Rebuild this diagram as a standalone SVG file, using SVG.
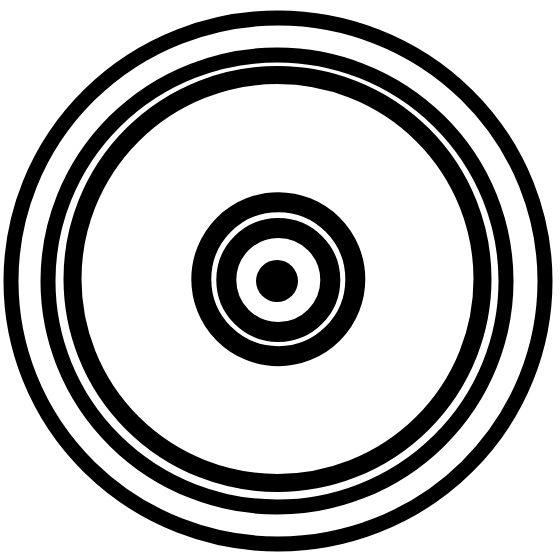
<svg xmlns="http://www.w3.org/2000/svg" width="560" height="560" viewBox="0 0 560 560">
<style>.r{fill:none;stroke:#000}</style>
<rect width="560" height="560" fill="#fff"/>
<ellipse class="r" cx="278" cy="281" rx="267" ry="263" stroke-width="15"/>
<ellipse class="r" cx="277" cy="281" rx="229" ry="226" stroke-width="15"/>
<ellipse class="r" cx="277.5" cy="279" rx="205" ry="204" stroke-width="18"/>
<circle class="r" cx="278.3" cy="279.2" r="77" stroke-width="20"/>
<circle class="r" cx="278.3" cy="280" r="52" stroke-width="20"/>
<circle cx="277" cy="281" r="21" fill="#000"/>
</svg>
